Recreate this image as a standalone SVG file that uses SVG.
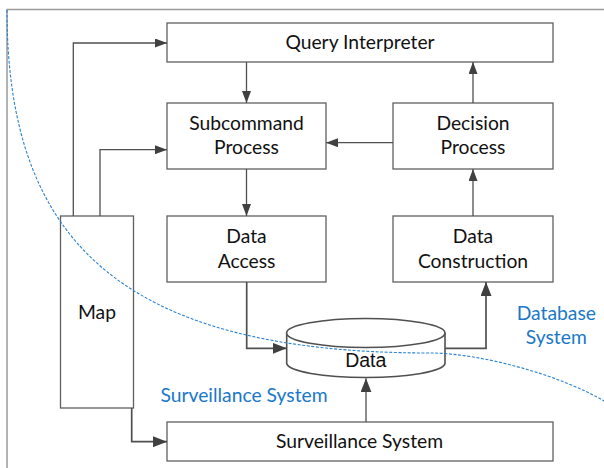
<svg xmlns="http://www.w3.org/2000/svg" width="604" height="468" viewBox="0 0 604 468">
  <style>
    .box { fill: #ffffff; stroke: #606060; stroke-width: 1.3; }
    .lbl { font-family: Lato, "Liberation Sans", sans-serif; font-size: 19.3px; fill: #111111; text-anchor: middle; }
    .blue { font-family: Lato, "Liberation Sans", sans-serif; font-size: 19.3px; fill: #1a78c8; text-anchor: middle; }
    .conn { fill: none; stroke: #505050; stroke-width: 1.3; }
    .thick { stroke-width: 1.7; }
  </style>
  <defs>
    <marker id="arr" markerUnits="userSpaceOnUse" markerWidth="12" markerHeight="9" refX="12" refY="4.5" orient="auto">
      <path d="M0,0 L12,4.5 L0,9 z" fill="#404040"/>
    </marker>
    <marker id="arrBig" markerUnits="userSpaceOnUse" markerWidth="14" markerHeight="11" refX="14" refY="5.5" orient="auto">
      <path d="M0,0 L14,5.5 L0,11 z" fill="#404040"/>
    </marker>
  </defs>

  <rect width="604" height="468" fill="#ffffff"/>
  <path d="M7,468 V9.5 H604" fill="none" stroke="#9a9a9a" stroke-width="1.5"/>

  <g id="query-interpreter">
    <rect class="box" x="167" y="23" width="386" height="39"/>
    <text class="lbl" x="360" y="49">Query Interpreter</text>
  </g>
  <g id="subcommand-process">
    <rect class="box" x="167" y="103" width="159" height="66"/>
    <text class="lbl" x="246.5" y="130">Subcommand</text>
    <text class="lbl" x="246.5" y="154">Process</text>
  </g>
  <g id="decision-process">
    <rect class="box" x="393" y="103" width="160" height="66"/>
    <text class="lbl" x="473" y="130">Decision</text>
    <text class="lbl" x="473" y="154">Process</text>
  </g>
  <g id="data-access">
    <rect class="box" x="167" y="216" width="159" height="66"/>
    <text class="lbl" x="246.5" y="243">Data</text>
    <text class="lbl" x="246.5" y="268">Access</text>
  </g>
  <g id="data-construction">
    <rect class="box" x="393" y="216" width="160" height="66"/>
    <text class="lbl" x="473" y="243">Data</text>
    <text class="lbl" x="473" y="268">Construction</text>
  </g>
  <g id="map">
    <rect class="box" x="60.5" y="216" width="73" height="192"/>
    <text class="lbl" x="97" y="318.5">Map</text>
  </g>
  <g id="surveillance-system">
    <rect class="box" x="167" y="422" width="386" height="39"/>
    <text class="lbl" x="359.5" y="448">Surveillance System</text>
  </g>
  <g id="data">
    <path d="M286.7,333 V363.5 A79.2,14.5 0 0 0 445,363.5 V333" fill="#ffffff" stroke="#505050" stroke-width="1.6"/>
    <ellipse cx="365.8" cy="333" rx="79.2" ry="14.5" fill="#ffffff" stroke="#505050" stroke-width="1.6"/>
    <text x="365.8" y="366.7" font-family="'Liberation Sans', Arial, sans-serif" font-size="19.5" fill="#111" text-anchor="middle">Data</text>
  </g>

  <g id="connectors">
    <path class="conn" d="M73.3,216 V43 H167" marker-end="url(#arr)"/>
    <path class="conn" d="M100,216 V149.7 H167" marker-end="url(#arr)"/>
    <path class="conn" d="M246.5,62 V103" marker-end="url(#arr)"/>
    <path class="conn" d="M246.5,169 V216" marker-end="url(#arr)"/>
    <path class="conn" d="M393,142.7 H326" marker-end="url(#arr)"/>
    <path class="conn" d="M473,216 V169" marker-end="url(#arr)"/>
    <path class="conn" d="M473,103 V62" marker-end="url(#arr)"/>
    <path class="conn thick" d="M246.7,282 V348.3 H286.7" marker-end="url(#arrBig)"/>
    <path class="conn thick" d="M445,348.3 H486 V282" marker-end="url(#arrBig)"/>
    <path class="conn" d="M366,422 V378.3" marker-end="url(#arrBig)"/>
    <path class="conn thick" d="M131.7,408 V441.7 H167" marker-end="url(#arrBig)"/>
  </g>

  <g id="boundary">
    <path d="M7,10 C7,240 120,353 430,353 C480,353 560,375 604,401" fill="none" stroke="#2a82d0" stroke-width="1.1" stroke-dasharray="3 1.6"/>
    <text class="blue" x="244" y="401.7">Surveillance System</text>
    <text class="blue" x="556.3" y="320">Database</text>
    <text class="blue" x="556.3" y="344.3">System</text>
  </g>
</svg>
